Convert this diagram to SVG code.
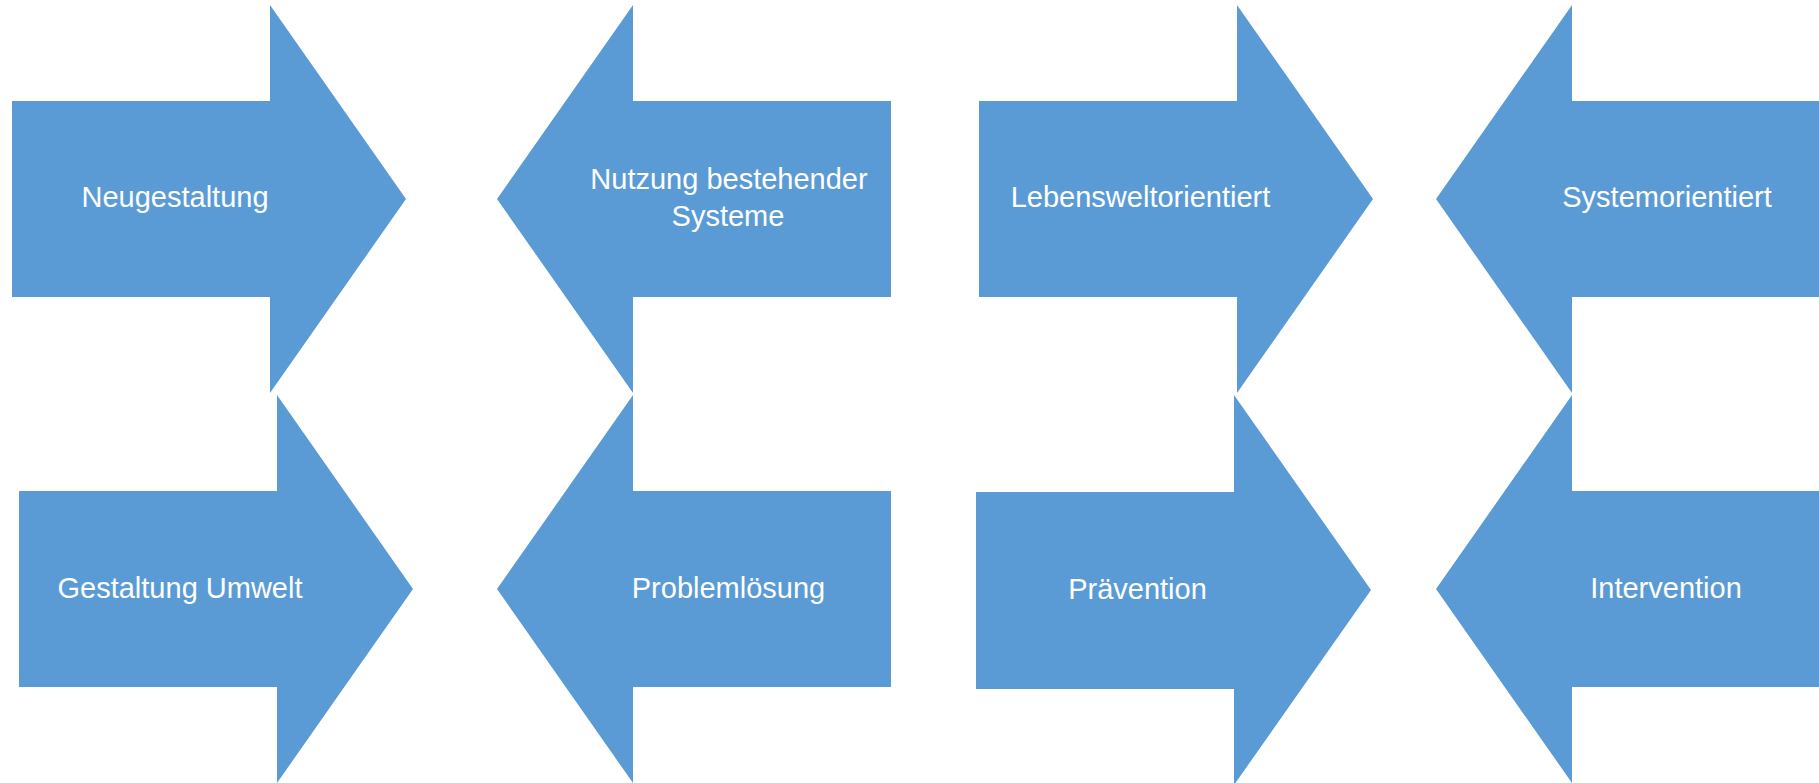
<svg xmlns="http://www.w3.org/2000/svg" width="1819" height="783" viewBox="0 0 1819 783">
<style>
.arrow{fill:#5B9BD5;}
.lbl{font-family:"Liberation Sans",Arial,sans-serif;font-size:29px;fill:#FFFFFF;text-anchor:middle;}
</style>
<rect x="0" y="0" width="1819" height="783" fill="#FFFFFF"/>
<g id="connectors"/>
<g id="neugestaltung">
<polygon class="arrow" points="12,101 270,101 270,5 406,199 270,393 270,297 12,297"/>
<text class="lbl" x="175" y="207">Neugestaltung</text>
</g>
<g id="gestaltung-umwelt">
<polygon class="arrow" points="19,491 277,491 277,395 413,589 277,783 277,687 19,687"/>
<text class="lbl" x="180" y="598">Gestaltung Umwelt</text>
</g>
<g id="nutzung-bestehender-systeme">
<polygon class="arrow" points="891,101 633,101 633,5 497,199 633,393 633,297 891,297"/>
<text class="lbl" x="729" y="189">Nutzung bestehender</text>
<text class="lbl" x="728" y="226">Systeme</text>
</g>
<g id="problemloesung">
<polygon class="arrow" points="891,491 633,491 633,395 497,589 633,783 633,687 891,687"/>
<text class="lbl" x="728.5" y="598">Problemlösung</text>
</g>
<g id="lebensweltorientiert">
<polygon class="arrow" points="979,101 1237,101 1237,5 1373,199 1237,393 1237,297 979,297"/>
<text class="lbl" x="1140.5" y="207">Lebensweltorientiert</text>
</g>
<g id="praevention">
<polygon class="arrow" points="976,492 1234,492 1234,395 1371,590 1234,785 1234,689 976,689"/>
<text class="lbl" x="1137.5" y="599">Prävention</text>
</g>
<g id="systemorientiert">
<polygon class="arrow" points="1830,101 1572,101 1572,5 1436,199 1572,393 1572,297 1830,297"/>
<text class="lbl" x="1667" y="207">Systemorientiert</text>
</g>
<g id="intervention">
<polygon class="arrow" points="1830,491 1572,491 1572,395 1436,589 1572,783 1572,687 1830,687"/>
<text class="lbl" x="1666" y="598">Intervention</text>
</g>
</svg>
